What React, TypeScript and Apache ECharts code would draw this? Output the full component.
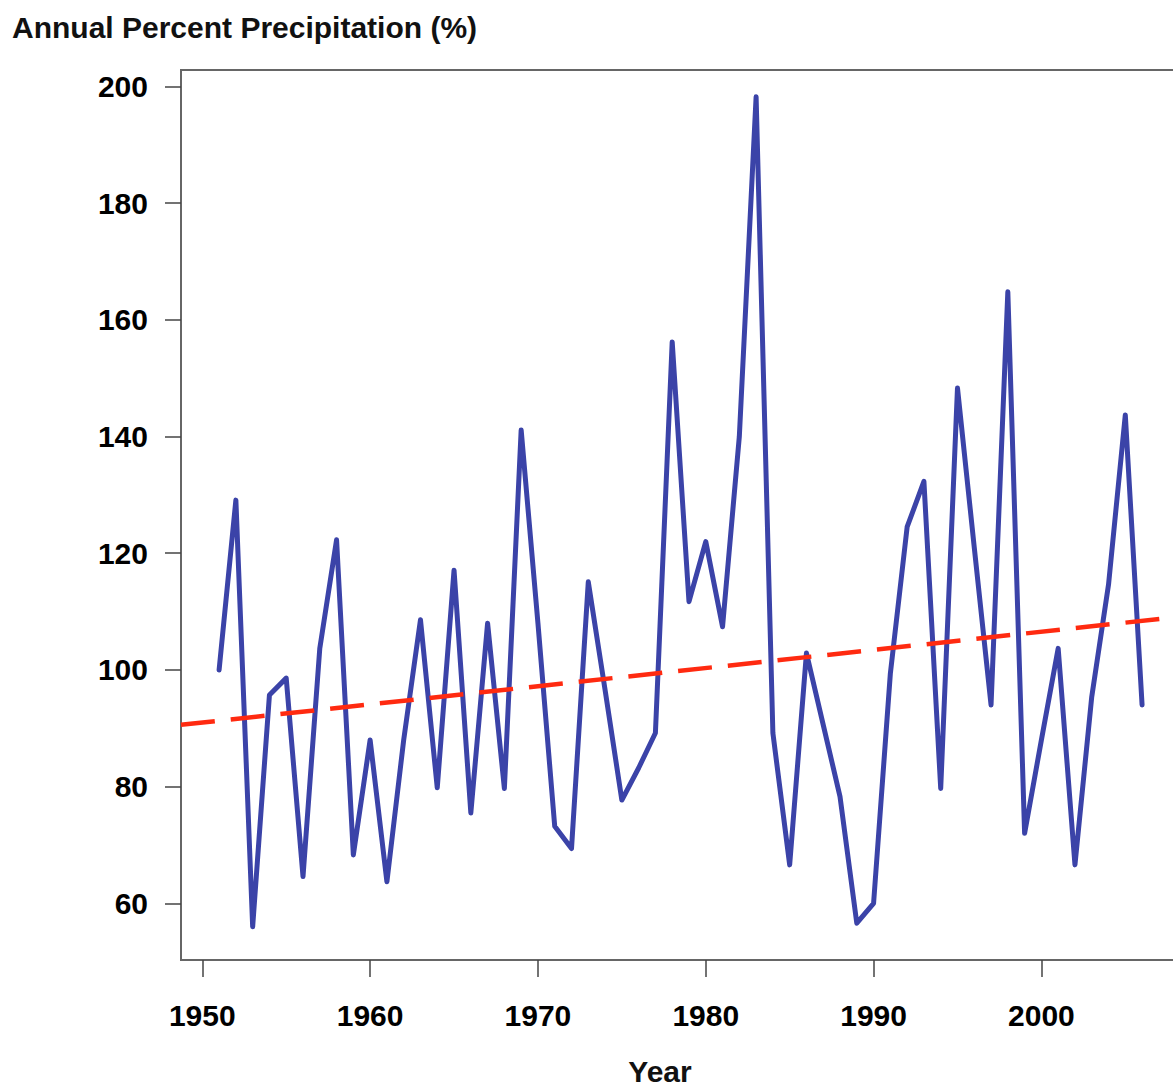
import React, { useEffect, useRef } from "react";
import * as echarts from "echarts";

const years: number[] = [
  1951, 1952, 1953, 1954, 1955, 1956, 1957, 1958, 1959, 1960,
  1961, 1962, 1963, 1964, 1965, 1966, 1967, 1968, 1969, 1970,
  1971, 1972, 1973, 1974, 1975, 1976, 1977, 1978, 1979, 1980,
  1981, 1982, 1983, 1984, 1985, 1986, 1987, 1988, 1989, 1990,
  1991, 1992, 1993, 1994, 1995, 1996, 1997, 1998, 1999, 2000,
  2001, 2002, 2003, 2004, 2005, 2006,
];

const precipitation: number[] = [
  100.0, 129.1, 56.0, 95.7, 98.6, 64.6, 103.7, 122.3, 68.3, 88.0,
  63.7, 88.0, 108.6, 79.8, 117.1, 75.5, 108.0, 79.7, 141.1, 108.0,
  73.2, 69.4, 115.1, 96.6, 77.7, 83.2, 89.2, 156.2, 111.7, 122.0,
  107.4, 140.0, 198.2, 89.2, 66.6, 102.9, 90.6, 78.3, 56.6, 60.0,
  99.4, 124.5, 132.3, 79.7, 148.3, 121.0, 94.0, 164.8, 72.0, 88.0,
  103.7, 66.6, 95.4, 114.6, 143.7, 94.0,
];

const trendYears: number[] = [1948.73, 2008.2];
const trendValues: number[] = [90.6, 109.1];

const xTicks: number[] = [1950, 1960, 1970, 1980, 1990, 2000];
const yTicks: number[] = [60, 80, 100, 120, 140, 160, 180, 200];

const titleText = "Annual Percent Precipitation (%)";
const xAxisTitle = "Year";

export default function App() {
  const ref = useRef<HTMLDivElement>(null);

  useEffect(() => {
    if (!ref.current) return;
    const chart = echarts.init(ref.current, null, { renderer: "svg" });
    const font = "'Liberation Sans', Arial, Helvetica, sans-serif";
    chart.setOption({
      animation: false,
      backgroundColor: "#ffffff",
      grid: {
        left: 181,
        top: 70,
        width: 998,
        height: 890,
        show: true,
        outerBoundsMode: "none",
        containLabel: false,
        borderColor: "#666666",
        borderWidth: 2,
        backgroundColor: "transparent",
      },
      xAxis: {
        type: "value",
        min: 1948.73,
        max: 2008.2,
        splitLine: { show: false },
        axisLine: { show: true, lineStyle: { color: "#666666", width: 2 } },
        axisTick: {
          show: true,
          length: 17,
          customValues: xTicks,
          lineStyle: { color: "#444444", width: 1.5 },
        },
        axisLabel: {
          show: true,
          customValues: xTicks,
          margin: 40,
          fontFamily: font,
          fontWeight: "bold",
          fontSize: 30,
          color: "#000000",
          formatter: (v: number) => String(Math.round(v)),
        },
      },
      yAxis: {
        type: "value",
        min: 50.3,
        max: 202.8,
        splitLine: { show: false },
        axisLine: { show: true, lineStyle: { color: "#666666", width: 2 } },
        axisTick: {
          show: true,
          length: 16,
          customValues: yTicks,
          lineStyle: { color: "#444444", width: 1.5 },
        },
        axisLabel: {
          show: true,
          customValues: yTicks,
          margin: 33,
          fontFamily: font,
          fontWeight: "bold",
          fontSize: 30,
          color: "#000000",
          formatter: (v: number) => String(Math.round(v)),
        },
      },
      graphic: [
        {
          type: "text",
          left: 12,
          top: 12,
          style: {
            text: titleText,
            fontFamily: font,
            fontWeight: "bold",
            fontSize: 30,
            fill: "#111111",
          },
        },
        {
          type: "text",
          x: 660,
          y: 1071,
          style: {
            text: xAxisTitle,
            fontFamily: font,
            fontWeight: "bold",
            fontSize: 30,
            fill: "#111111",
            align: "center",
            verticalAlign: "middle",
          },
        },
      ],
      series: [
        {
          type: "line",
          data: years.map((y, i) => [y, precipitation[i]]),
          showSymbol: false,
          symbol: "none",
          lineStyle: { color: "#3b43a8", width: 5, cap: "round", join: "round" },
          z: 2,
        },
        {
          type: "line",
          data: trendYears.map((y, i) => [y, trendValues[i]]),
          showSymbol: false,
          symbol: "none",
          lineStyle: { color: "#ff2a10", width: 4.5, type: [34, 16] },
          z: 3,
        },
      ],
    });
    return () => chart.dispose();
  }, []);

  return (
    <div
      ref={ref}
      style={{ position: "fixed", left: 0, top: 0, width: 1173, height: 1088 }}
    />
  );
}
